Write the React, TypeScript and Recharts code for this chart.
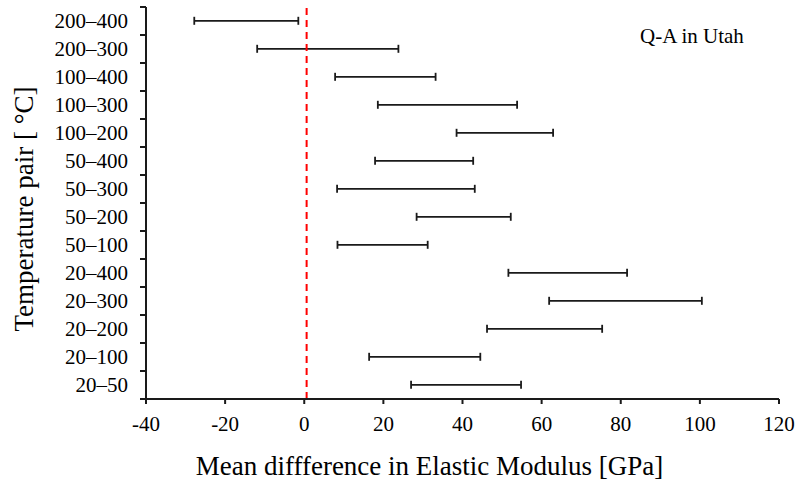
import React from 'react';
import {
  ComposedChart, Bar, XAxis, YAxis, ReferenceLine, ReferenceDot, Label,
} from 'recharts';

const PAIRS = ['200–400', '200–300', '100–400', '100–300', '100–200', '50–400', '50–300', '50–200', '50–100', '20–400', '20–300', '20–200', '20–100', '20–50'];
const LOWER = [-27.8, -11.9, 7.8, 18.6, 38.5, 17.9, 8.3, 28.4, 8.4, 51.6, 61.9, 46.2, 16.4, 27.0];
const UPPER = [-1.5, 23.8, 33.2, 53.8, 62.9, 42.7, 43.1, 52.2, 31.2, 81.6, 100.5, 75.3, 44.5, 54.8];
const X_TICKS = [-40, -20, 0, 20, 40, 60, 80, 100, 120];
const ZERO_LINE = 0.6;
const ANNOTATION = 'Q-A in Utah';
const X_TITLE = 'Mean diffference in Elastic Modulus [GPa]';
const Y_TITLE = 'Temperature pair [ °C]';

const data = PAIRS.map((pair, i) => ({ pair, range: [LOWER[i], UPPER[i]] }));

const W = 796;
const H = 484;
const MARGIN = { top: 7, right: 17, bottom: 0, left: 0 };
const Y_WIDTH = 146;
const X_HEIGHT = 85;
const PLOT_H = H - MARGIN.top - MARGIN.bottom - X_HEIGHT;
const BAND = PLOT_H / PAIRS.length;
const AXIS_X = MARGIN.left + Y_WIDTH;
const FONT = "'Liberation Serif', 'Times New Roman', serif";
const INK = '#1a1a1a';

const IntervalShape = (props: any) => {
  const { x, y, width, height } = props;
  const cy = y + height / 2;
  const x2 = x + width;
  const cap = 4;
  return (
    <g stroke={INK} strokeWidth={1.8} fill="none">
      <line x1={x} y1={cy} x2={x2} y2={cy} />
      <line x1={x} y1={cy - cap} x2={x} y2={cy + cap} />
      <line x1={x2} y1={cy - cap} x2={x2} y2={cy + cap} />
    </g>
  );
};

const YTick = (props: any) => {
  const { y, payload, index } = props;
  return (
    <g>
      <text x={AXIS_X - 18} y={y} textAnchor="end" dominantBaseline="central" fontFamily={FONT} fontSize={21} fill="#000">
        {payload.value}
      </text>
      <line x1={AXIS_X - 6} x2={AXIS_X} y1={y - BAND / 2} y2={y - BAND / 2} stroke={INK} strokeWidth={2} />
      {index === PAIRS.length - 1 && (
        <line x1={AXIS_X - 6} x2={AXIS_X} y1={y + BAND / 2} y2={y + BAND / 2} stroke={INK} strokeWidth={2} />
      )}
    </g>
  );
};

const XTick = (props: any) => {
  const { x, y, payload } = props;
  return (
    <text x={x} y={y + 25} textAnchor="middle" fontFamily={FONT} fontSize={21} fill="#000">
      {payload.value}
    </text>
  );
};

export default function App() {
  return (
    <div style={{ position: 'absolute', top: 0, left: 0, width: W, height: H }}>
      <ComposedChart width={W} height={H} data={data} layout="vertical" margin={MARGIN}>
        <XAxis
          xAxisId="bottom"
          type="number"
          domain={[-40, 120]}
          ticks={X_TICKS}
          allowDataOverflow
          height={X_HEIGHT}
          tickSize={5}
          tickLine={{ stroke: INK, strokeWidth: 2 }}
          axisLine={{ stroke: INK, strokeWidth: 2 }}
          tick={<XTick />}
        >
          <Label
            content={(p: any) => {
              const vb = p.viewBox;
              return (
                <text x={vb.x + vb.width / 2 - 33} y={vb.y + 76} textAnchor="middle" fontFamily={FONT} fontSize={27} fill="#000">
                  {X_TITLE}
                </text>
              );
            }}
          />
        </XAxis>
        <XAxis xAxisId="top" orientation="top" type="number" domain={[-40, 120]} height={0} tick={false} tickLine={false} axisLine={{ stroke: INK, strokeWidth: 2 }} />
        <YAxis
          yAxisId="left"
          type="category"
          dataKey="pair"
          width={Y_WIDTH}
          tickLine={false}
          axisLine={{ stroke: INK, strokeWidth: 2 }}
          tick={<YTick />}
          interval={0}
        >
          <Label
            content={(p: any) => {
              const vb = p.viewBox;
              const cx = 24;
              const cy = vb.y + vb.height / 2 + 6;
              return (
                <text x={cx} y={cy} transform={`rotate(-90 ${cx} ${cy})`} textAnchor="middle" dominantBaseline="central" fontFamily={FONT} fontSize={27} fill="#000">
                  {Y_TITLE}
                </text>
              );
            }}
          />
        </YAxis>
        <YAxis yAxisId="right" orientation="right" type="category" dataKey="pair" width={0} tick={false} tickLine={false} axisLine={{ stroke: INK, strokeWidth: 2 }} />
        <Bar
          xAxisId="bottom"
          yAxisId="left"
          dataKey="range"
          shape={<IntervalShape />}
          isAnimationActive={false}
        />
        <ReferenceLine xAxisId="bottom" yAxisId="left" x={ZERO_LINE} stroke="#ff0000" strokeWidth={2} strokeDasharray="7 5" />
        <ReferenceDot
          xAxisId="bottom"
          yAxisId="left"
          x={98}
          y={PAIRS[0]}
          r={0}
          fill="none"
          stroke="none"
          label={(p: any) => {
            const vb = p.viewBox;
            const cx = vb.x + (vb.width || 0) / 2;
            const cy = vb.y + (vb.height || 0) / 2;
            return (
              <text x={cx} y={cy + 15} textAnchor="middle" dominantBaseline="central" fontFamily={FONT} fontSize={21} fill="#000">
                {ANNOTATION}
              </text>
            );
          }}
        />
      </ComposedChart>
    </div>
  );
}
